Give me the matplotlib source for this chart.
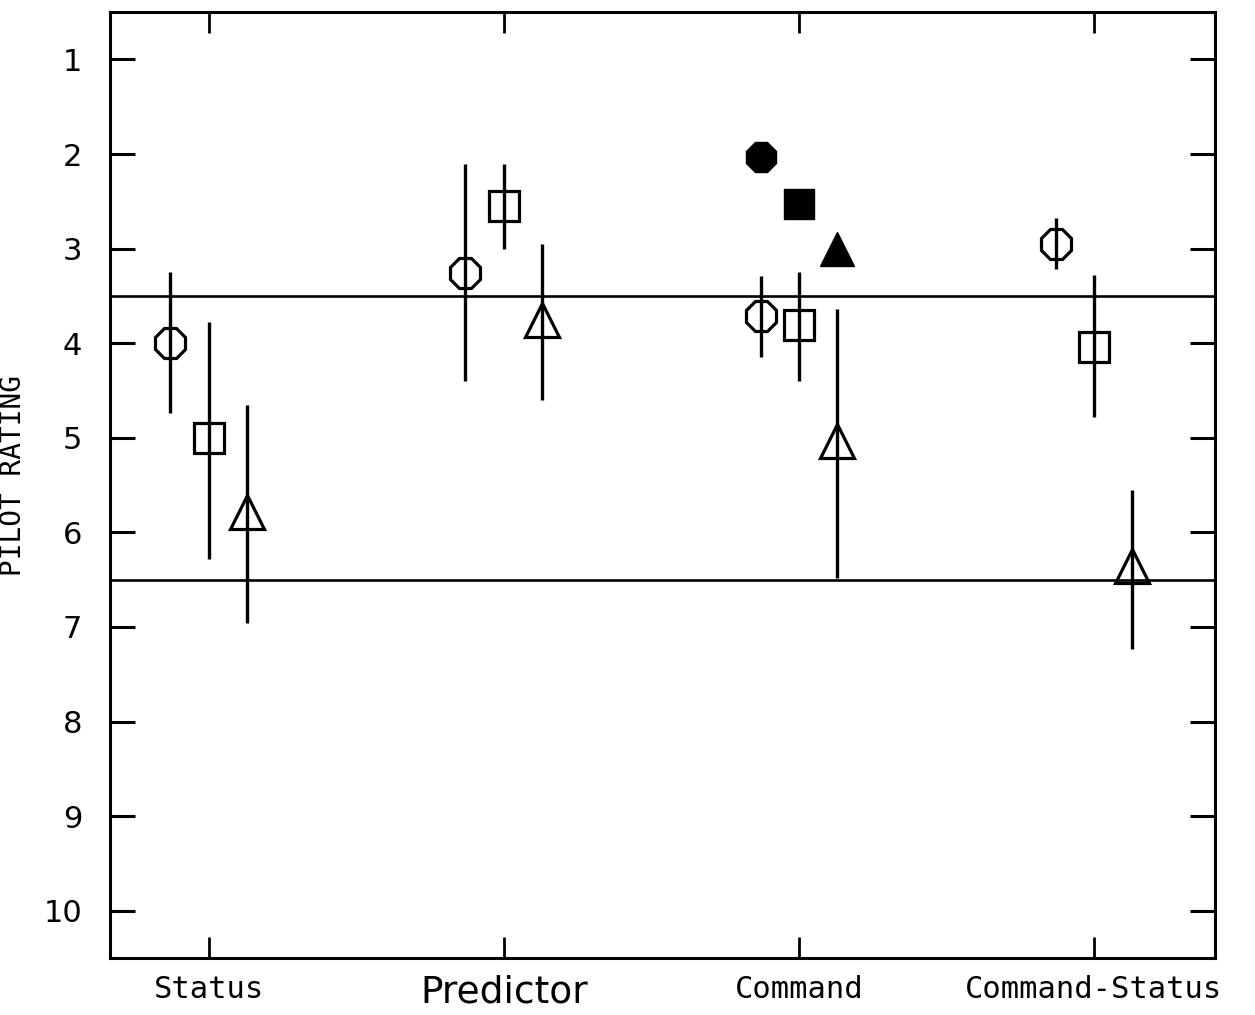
import numpy as np
import matplotlib.pyplot as plt

# display types along the x axis
categories = ['Status', 'Predictor', 'Command', 'Command-Status']

# pilot ratings (mean, lower end of bar, upper end of bar)
circle_mean = [4.0, 3.26, 3.71, 2.95]
circle_lo = [3.25, 2.11, 3.29, 2.68]
circle_hi = [4.74, 4.40, 4.15, 3.22]

square_mean = [5.0, 2.55, 3.81, 4.04]
square_lo = [3.78, 2.11, 3.25, 3.28]
square_hi = [6.28, 3.0, 4.40, 4.78]

triangle_mean = [5.79, 3.75, 5.03, 6.36]
triangle_lo = [4.65, 2.95, 3.64, 5.55]
triangle_hi = [6.96, 4.60, 6.48, 7.23]

# solid symbols only shown for Command
solid_circle = 2.03
solid_square = 2.53
solid_triangle = 3.0

boundaries = [3.5, 6.5]
rating_ticks = [1, 2, 3, 4, 5, 6, 7, 8, 9, 10]

fig = plt.figure(figsize=(12.55, 10.15), dpi=100)
ax = fig.add_axes([0.0876, 0.0562, 0.8805, 0.9318])

x = np.arange(1, len(categories) + 1)
off = 0.13


def draw(xs, mean, lo, hi, marker, ms):
    mean = np.array(mean)
    yerr = [mean - np.array(lo), np.array(hi) - mean]
    ax.errorbar(xs, mean, yerr=yerr, fmt=marker, ms=ms, mfc='none', mec='black',
                mew=2.3, ecolor='black', elinewidth=2.4, capsize=0, zorder=3)


draw(x - off, circle_mean, circle_lo, circle_hi, '8', 24)
draw(x, square_mean, square_lo, square_hi, 's', 21)
draw(x + off, triangle_mean, triangle_lo, triangle_hi, '^', 24)

ax.plot(3 - off, solid_circle, marker='8', ms=24, color='black', ls='none')
ax.plot(3, solid_square, marker='s', ms=21, color='black', ls='none')
ax.plot(3 + off, solid_triangle, marker='^', ms=24, color='black', ls='none')

for b in boundaries:
    ax.axhline(b, color='black', lw=1.9, zorder=2)

ax.set_xlim(0.665, 4.41)
ax.set_ylim(10.5, 0.5)

ax.set_yticks(rating_ticks)
ax.set_yticklabels([str(t) for t in rating_ticks], family='DejaVu Sans', fontsize=22)
ax.set_xticks(x)
ax.set_xticklabels(categories, family='DejaVu Sans Mono', fontsize=22)
ax.get_xticklabels()[1].set_fontsize(27)
ax.get_xticklabels()[1].set_family('DejaVu Sans')

ax.tick_params(axis='y', direction='in', length=18, width=2.2, pad=20,
               left=True, right=True)
ax.tick_params(axis='x', direction='in', length=15, width=2.0, pad=12,
               top=True, bottom=True)

for s in ax.spines.values():
    s.set_linewidth(2.2)

ax.set_ylabel('PILOT RATING', family='DejaVu Sans Mono', fontsize=20)
ax.yaxis.set_label_coords(-0.075, 0.51)

fig.savefig('out.png', dpi=100)
